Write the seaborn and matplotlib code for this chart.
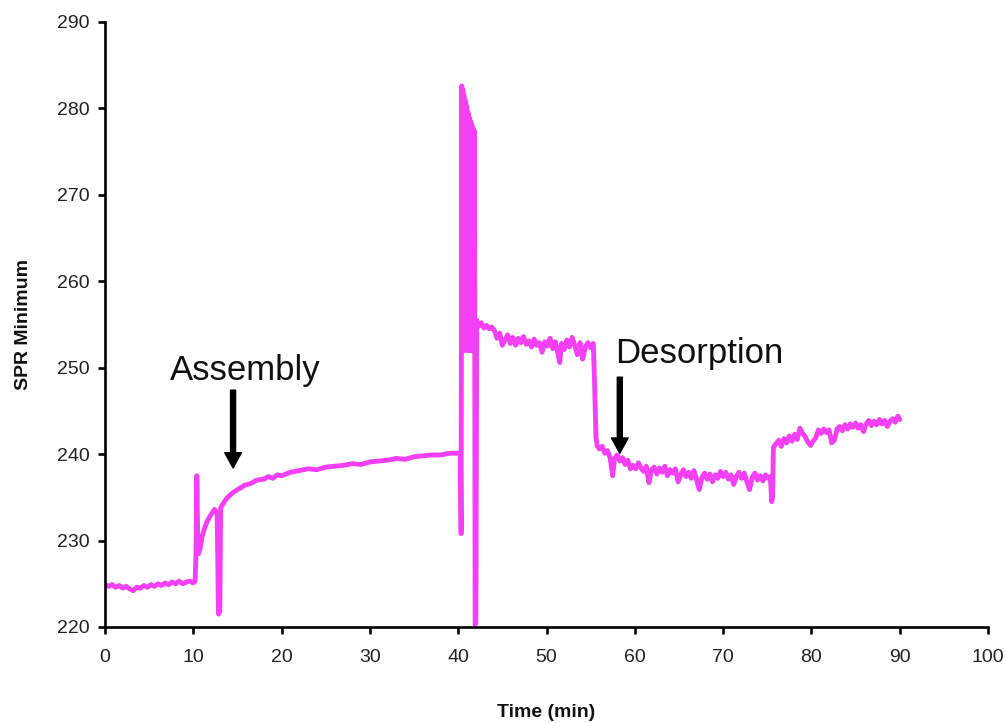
import numpy as np
import pandas as pd
import matplotlib
matplotlib.use("Agg")
import matplotlib.pyplot as plt
import seaborn as sns

# ---- data (time in min, SPR minimum) ----
time_baseline = [0.0, 0.4, 0.8, 1.2, 1.6, 2.0, 2.4, 2.8, 3.2, 3.6, 4.0, 4.4, 4.8, 5.2, 5.6,
                 6.0, 6.4, 6.8, 7.2, 7.6, 8.0, 8.4, 8.8, 9.2, 9.6, 10.0, 10.2]
spr_baseline = [224.9, 224.7, 224.9, 224.6, 224.8, 224.5, 224.7, 224.4, 224.2, 224.6, 224.5, 224.8,
                224.6, 224.9, 224.7, 225.0, 224.8, 225.1, 224.9, 225.2, 225.0, 225.3, 225.0, 225.2,
                225.3, 225.1, 225.3]

time_assembly = [10.3, 10.4, 10.5, 10.6, 10.8, 11.0, 11.3, 11.6, 12.0, 12.4, 12.7, 12.85, 13.0,
                 13.1, 13.4, 13.8, 14.2, 14.7, 15.2, 15.8, 16.5, 17.2, 18.0, 18.5, 19.0, 19.5,
                 20.0, 21.0, 22.0, 23.0, 24.0, 25.0, 26.0, 27.0, 28.0, 29.0, 30.0, 31.0, 32.0,
                 33.0, 34.0, 35.0, 36.0, 37.0, 38.0, 39.0, 40.0, 40.2]
spr_assembly = [228.5, 237.5, 230.0, 228.5, 229.2, 230.5, 231.5, 232.3, 233.0, 233.6, 233.2, 221.5,
                221.8, 233.8, 234.3, 234.9, 235.3, 235.7, 236.0, 236.4, 236.6, 237.0, 237.1, 237.4,
                237.2, 237.6, 237.5, 237.9, 238.1, 238.3, 238.2, 238.5, 238.6, 238.7, 238.9, 238.8,
                239.1, 239.2, 239.3, 239.5, 239.4, 239.7, 239.8, 239.9, 239.9, 240.1, 240.1, 240.0]

time_injection = [40.25, 40.33, 40.40, 40.46, 40.52, 40.58, 40.64, 40.70, 40.76, 41.00, 41.06,
                  41.12, 41.18, 41.24, 41.30, 41.36, 41.42, 41.48, 41.54, 41.60, 41.66, 41.72,
                  41.78, 41.84, 41.92, 42.00, 42.10]
spr_injection = [240.0, 230.8, 282.6, 252.0, 282.2, 252.0, 281.6, 252.0, 281.0, 280.0, 252.0,
                 279.5, 252.0, 279.0, 252.0, 278.6, 252.0, 278.3, 252.0, 277.9, 252.0, 277.6,
                 252.0, 277.4, 220.3, 220.5, 255.5]

time_plateau = [42.3, 42.6, 42.9, 43.2, 43.5, 43.8, 44.1, 44.4, 44.7, 45.0, 45.3, 45.6, 45.9, 46.2,
                46.5, 46.8, 47.1, 47.4, 47.7, 48.0, 48.3, 48.6, 48.9, 49.2, 49.5, 49.8, 50.1, 50.4,
                50.7, 51.0, 51.3, 51.5, 51.7, 52.0, 52.3, 52.6, 52.9, 53.2, 53.5, 53.8, 54.1, 54.4,
                54.7, 55.0, 55.3, 55.45, 55.6, 55.75]
spr_plateau = [254.8, 255.2, 254.6, 254.9, 254.5, 254.7, 254.3, 253.4, 254.0, 252.6, 253.2, 253.8,
               252.8, 253.5, 252.6, 253.4, 252.9, 253.6, 252.7, 253.1, 252.4, 253.3, 252.6, 252.9,
               251.8, 253.0, 252.5, 253.4, 252.2, 253.0, 251.6, 250.6, 252.8, 252.1, 253.2, 252.4,
               253.5, 252.6, 251.5, 252.9, 251.0, 252.4, 252.9, 252.3, 252.8, 248.0, 242.0, 240.9]

time_desorption = [56.0, 56.3, 56.6, 56.9, 57.2, 57.5, 57.7, 58.0, 58.3, 58.6, 58.9, 59.2, 59.5,
                   59.8, 60.1, 60.4, 60.7, 61.0, 61.3, 61.6, 61.9, 62.2, 62.5, 62.8, 63.1, 63.4,
                   63.7, 64.0, 64.3, 64.6, 64.9, 65.2, 65.5, 65.8, 66.1, 66.4, 66.7, 67.0, 67.3,
                   67.6, 67.9, 68.2, 68.5, 68.8, 69.1, 69.4, 69.7, 70.0, 70.3, 70.6, 70.9, 71.2,
                   71.5, 71.8, 72.1, 72.4, 72.7, 73.0, 73.3, 73.6, 73.9, 74.2, 74.5, 74.8, 75.1,
                   75.35, 75.5, 75.6, 75.7]
spr_desorption = [240.6, 240.9, 240.1, 240.4, 239.6, 237.5, 239.5, 239.9, 239.2, 239.6, 238.8, 239.3,
                  238.3, 238.7, 238.3, 239.0, 238.4, 238.0, 238.6, 236.7, 238.2, 238.5, 237.7, 238.4,
                  237.9, 238.6, 237.5, 238.2, 237.8, 238.3, 236.8, 237.6, 238.2, 237.4, 237.9, 237.2,
                  238.1, 237.0, 235.9, 237.3, 237.8, 237.1, 237.7, 236.8, 237.6, 237.2, 238.0, 237.4,
                  237.9, 237.1, 237.6, 236.5, 237.4, 237.9, 237.2, 237.8, 236.8, 235.9, 237.3, 237.8,
                  237.0, 237.5, 236.9, 237.6, 237.2, 237.4, 234.5, 235.0, 240.8]

time_final = [76.0, 76.3, 76.6, 76.9, 77.2, 77.5, 77.8, 78.1, 78.4, 78.7, 79.0, 79.3, 79.6, 79.9,
              80.2, 80.5, 80.8, 81.1, 81.4, 81.7, 82.0, 82.3, 82.6, 82.9, 83.2, 83.5, 83.8, 84.1,
              84.4, 84.7, 85.0, 85.3, 85.6, 85.9, 86.2, 86.5, 86.8, 87.1, 87.4, 87.7, 88.0, 88.3,
              88.6, 88.9, 89.2, 89.5, 89.8, 90.0]
spr_final = [241.2, 241.6, 240.9, 241.8, 241.3, 242.1, 241.5, 242.3, 241.7, 243.0, 242.4, 242.0,
             241.4, 241.0, 241.5, 241.9, 242.8, 242.4, 242.9, 242.5, 242.8, 241.3, 241.6, 242.9,
             243.2, 242.7, 243.4, 242.9, 243.5, 243.1, 243.6, 243.0, 243.4, 242.6, 243.5, 243.9,
             243.3, 243.8, 243.4, 244.0, 243.5, 243.9, 243.2, 243.8, 244.1, 243.7, 244.4, 244.0]

x_ticks = [0, 10, 20, 30, 40, 50, 60, 70, 80, 90, 100]
y_ticks = [220, 230, 240, 250, 260, 270, 280, 290]

df = pd.DataFrame({
    "Time (min)": time_baseline + time_assembly + time_injection + time_plateau + time_desorption + time_final,
    "SPR Minimum": spr_baseline + spr_assembly + spr_injection + spr_plateau + spr_desorption + spr_final,
})

# ---- styling ----
sns.set_theme(style="ticks")
plt.rcParams["font.family"] = ["Liberation Sans", "DejaVu Sans"]

fig = plt.figure(figsize=(10.06, 7.23), dpi=100)
ax = fig.add_axes([0.1044, 0.1328, 0.8777, 0.8368])

sns.lineplot(data=df, x="Time (min)", y="SPR Minimum", estimator=None, sort=False,
             color="#f440f4", linewidth=3.5, ax=ax)

ax.set_xlim(0, 100)
ax.set_ylim(220, 290)
ax.set_xticks(x_ticks)
ax.set_yticks(y_ticks)
ax.set_xticklabels([str(v) for v in x_ticks])
ax.set_yticklabels([str(v) for v in y_ticks])

for side in ["top", "right"]:
    ax.spines[side].set_visible(False)
for side in ["left", "bottom"]:
    ax.spines[side].set_linewidth(1.9)
    ax.spines[side].set_color("black")

ax.tick_params(axis="both", direction="out", length=5, width=1.9, colors="black",
               labelsize=14, labelcolor="#222222")
ax.tick_params(axis="x", pad=11)
ax.tick_params(axis="y", pad=6)

ax.set_xlabel("Time (min)", fontsize=14, fontweight="bold", color="#111111")
ax.set_ylabel("SPR Minimum", fontsize=14, fontweight="bold", color="#111111")
ax.xaxis.set_label_coords(0.5, -0.127)
ax.yaxis.set_label_coords(-0.083, 0.5)

# annotations
arrow_kw = dict(facecolor="black", edgecolor="black", width=3.6, headwidth=12, headlength=11,
                shrink=0.0)
ax.annotate("", xy=(14.5, 238.4), xytext=(14.5, 247.4), arrowprops=arrow_kw)
ax.text(15.85, 249.7, "Assembly", fontsize=25, ha="center", va="center", color="#111111")

ax.annotate("", xy=(58.3, 240.1), xytext=(58.3, 248.9), arrowprops=arrow_kw)
ax.text(67.3, 251.7, "Desorption", fontsize=25, ha="center", va="center", color="#111111")

fig.savefig("out.png", dpi=100)
